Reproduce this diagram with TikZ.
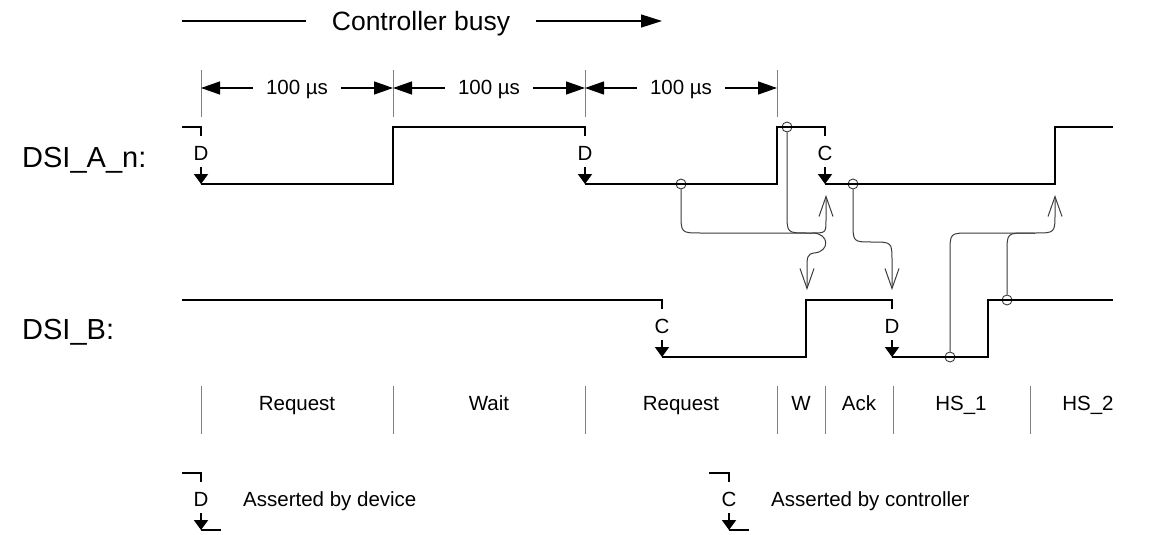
\documentclass[tikz,border=0pt]{standalone}
\usepackage{fontspec}
\setmainfont{Liberation Sans}
\usetikzlibrary{arrows.meta}
\definecolor{cCause}{HTML}{3A3A3A}
\definecolor{cTick} {HTML}{808080}

\tikzset{
  wave/.style={line width=2.4pt},
  assert/.style={line width=2pt},
  cause/.style={draw=cCause, line width=1pt},
  barb/.style={-{Straight Barb[length=20pt, width=14pt]}},
  ring/.style={circle, draw=cCause, line width=0.9pt, inner sep=0pt, minimum size=10pt},
  tick/.style={draw=cTick, line width=1pt},
  lbl/.style={font=\fontsize{20.5}{24}\selectfont, inner sep=0pt, text height=14.7pt, text depth=0pt},
  big/.style={font=\fontsize{26.5}{30}\selectfont, inner sep=0pt, text height=19pt, text depth=0pt},
  signame/.style={font=\fontsize{29}{33}\selectfont, inner sep=0pt, text height=20.8pt, text depth=0pt},
  dim/.style={line width=1.3pt, -{Triangle[length=19pt, width=13pt]}},
}

% letter and arrow of an assertion mark: name, x, top level, letter
\newcommand{\assertby}[4]{%
  \node[lbl] (#1) at (#2,#3+26) {#4};
  \draw[assert, -{Triangle[length=10pt, width=14pt]}] (#2,#3+40) -- (#2,#3+57);
}

\begin{document}
\begin{tikzpicture}[x=1pt, y=-1pt]
  \useasboundingbox (0,0) rectangle (1154,535);

  % controller busy
  \node[big, inner xsep=26pt] (busy) at (421,21) {Controller busy};
  \coordinate (busyL) at (182,21);
  \coordinate (busyR) at (662,21);
  \draw[line width=1.3pt] (busyL) -- (busy.west);
  \draw[line width=1.3pt, -{Triangle[length=21pt, width=13pt]}] (busy.east) -- (busyR);

  % 100 us intervals
  \foreach \x/\n in {201/t0, 393/t1, 585/t2, 777/t3} {
    \draw[tick] (\x,70) -- (\x,117);
    \coordinate (\n) at (\x,88);
  }
  \node[lbl, inner xsep=13pt] (dimA) at (297,87) {100 µs};
  \node[lbl, inner xsep=13pt] (dimB) at (489,87) {100 µs};
  \node[lbl, inner xsep=13pt] (dimC) at (681,87) {100 µs};
  \draw[dim] (dimA.west |- t0) -- (t0);
  \draw[dim] (dimA.east |- t1) -- (t1);
  \draw[dim] (dimB.west |- t1) -- (t1);
  \draw[dim] (dimB.east |- t2) -- (t2);
  \draw[dim] (dimC.west |- t2) -- (t2);
  \draw[dim] (dimC.east |- t3) -- (t3);

  % signal names
  \node[signame, anchor=west] (sigA) at (22,157) {DSI\_A\_n:};
  \node[signame, anchor=west] (sigB) at (22,329) {DSI\_B:};

  % cause and effect
  \node[ring] (c1) at (681,184) {};
  \node[ring] (c2) at (787,127) {};
  \node[ring] (c3) at (853,184) {};
  \node[ring] (c4) at (950,357) {};
  \node[ring] (c5) at (1007,300) {};
  \coordinate (upA) at (826,195);
  \coordinate (dnB) at (807,290);
  \coordinate (dnD) at (892,290);
  \coordinate (upH) at (1055,195);
  \draw[cause, barb] (c1.south) -- (681,213) .. controls (681,233) .. (701,233) -- (812,233)
    .. controls (830,233) and (830,252) .. (814,253)
    .. controls (807,254) and (807,258) .. (807,268) -- (dnB);
  \draw[cause, barb] (c2.south) -- (787,213) .. controls (787,233) .. (807,233) -- (812,233)
    .. controls (826,233) .. (826,219) -- (upA);
  \draw[cause, barb] (c3.south) -- (853,222) .. controls (853,242) .. (872,242)
    .. controls (892,242) .. (892,262) -- (dnD);
  \draw[cause, barb] (c4.north) -- (950,253) .. controls (950,233) .. (970,233) -- (1035,233)
    .. controls (1055,233) .. (1055,213) -- (upH);
  \draw[cause] (c5.north) -- (1007,253) .. controls (1007,233) .. (1027,233) -- (1035,233);

  % DSI_A_n
  \draw[wave] (182,127) -- (201,127) -- (201,136);
  \draw[wave] (201,184) -- (393,184) -- (393,127) -- (585,127) -- (585,136);
  \draw[wave] (585,184) -- (777,184) -- (777,127) -- (825,127) -- (825,136);
  \draw[wave] (825,184) -- (1055,184) -- (1055,127) -- (1113,127);
  \assertby{mA1}{201}{127}{D}
  \assertby{mA2}{585}{127}{D}
  \assertby{mA3}{825}{127}{C}

  % DSI_B
  \draw[wave] (182,300) -- (662,300) -- (662,309);
  \draw[wave] (662,357) -- (806,357) -- (806,300) -- (892,300) -- (892,309);
  \draw[wave] (892,357) -- (988,357) -- (988,300) -- (1113,300);
  \assertby{mB1}{662}{300}{C}
  \assertby{mB2}{892}{300}{D}

  % phases
  \foreach \x in {201,393,585,777,825,893,1030}
    \draw[tick] (\x,386) -- (\x,434);
  \node[lbl] (ph1) at (297,403) {Request};
  \node[lbl] (ph2) at (489,403) {Wait};
  \node[lbl] (ph3) at (681,403) {Request};
  \node[lbl] (ph4) at (801,403) {W};
  \node[lbl] (ph5) at (859,403) {Ack};
  \node[lbl] (ph6) at (961,403) {HS\_1};
  \node[lbl] (ph7) at (1088,403) {HS\_2};

  % legend
  \draw[assert] (182,473) -- (201,473) -- (201,482);
  \draw[assert] (201,530) -- (221,530);
  \assertby{mL1}{201}{473}{D}
  \node[lbl, anchor=west] (legD) at (243,499) {Asserted by device};
  \draw[assert] (709,473) -- (729,473) -- (729,482);
  \draw[assert] (729,530) -- (749,530);
  \assertby{mL2}{729}{473}{C}
  \node[lbl, anchor=west] (legC) at (771,499) {Asserted by controller};
\end{tikzpicture}
\end{document}
